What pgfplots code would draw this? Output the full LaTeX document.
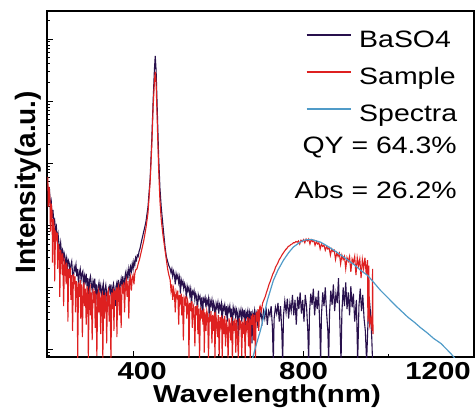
\documentclass[border=0pt]{standalone}
\usepackage{pgfplots}
\pgfplotsset{compat=1.18}
\usepackage{fontspec}
\setmainfont{Liberation Sans}[FakeStretch=1.2]
\newfontfamily\plainsans{Liberation Sans}
\newcommand\lf{\fontsize{23.7}{28}\selectfont}
\newcommand\boldlf{\fontsize{24.5}{29}\selectfont\bfseries}
\definecolor{cnavy}{RGB}{40,16,76}
\definecolor{cred}{RGB}{222,32,32}
\definecolor{cblue}{RGB}{80,155,200}
\begin{document}
\begin{tikzpicture}
\begin{axis}[
  name=ax,
  scale only axis, width=427pt, height=346pt,
  xmin=198, xmax=1200, ymin=-0.12, ymax=5.452,
  axis line style={line width=1.2pt, black},
  tick align=inside, xtick pos=bottom, ytick pos=left,
  major tick length=6pt, minor tick length=3pt,
  every tick/.style={black, line width=1pt},
  xtick={400,800,1200}, minor xtick={600,1000},
  xticklabels={\makebox[0pt]{\hspace{18pt}400},\makebox[0pt]{800},\makebox[0pt]{1200\hspace{72pt}}},
  xticklabel style={font=\boldlf, anchor=base, yshift=-22pt, inner sep=0pt},
  /pgf/number format/assume math mode=true,
  ytick={0,1,2,3,4,5}, yticklabels={},
  minor ytick={-0.097,-0.046,
    0.301,0.477,0.602,0.699,0.778,0.845,0.903,0.954,
    1.301,1.477,1.602,1.699,1.778,1.845,1.903,1.954,
    2.301,2.477,2.602,2.699,2.778,2.845,2.903,2.954,
    3.301,3.477,3.602,3.699,3.778,3.845,3.903,3.954,
    4.301,4.477,4.602,4.699,4.778,4.845,4.903,4.954,
    5.301},
  legend style={draw=none, fill=none, inner sep=0pt, outer sep=0pt,
    at={(rel axis cs:0.6066,0.945)}, anchor=north west,
    font=\lf, row sep=15pt,
    nodes={inner sep=0pt, text height=17pt, text depth=5pt},
    /tikz/every odd column/.style={column sep=8pt}},
  legend cell align=left,
  legend image code/.code={\draw[#1] (0pt,6pt) -- (44pt,6pt);},
]
\addplot[cnavy, line width=1.1pt] coordinates {
(200,2.62) (202,2.48) (204,2.55) (206,2.30) (208,2.38) (210,2.12) (212,2.25) (214,2.02) (216,2.08) (218,1.92)
(220,1.98) (222,1.78) (224,1.86) (226,1.70) (228,1.62) (230,1.72) (232,1.55) (234,1.60) (236,1.42) (238,1.56)
(240,1.50) (242,1.38) (244,1.47) (246,1.30) (248,1.44) (250,1.40) (252,1.25) (254,1.36) (256,1.42) (258,1.22)
(260,1.15) (262,1.33) (264,1.28) (266,1.37) (268,1.18) (270,1.30) (272,1.05) (274,1.24) (276,1.30) (278,1.12)
(280,1.22) (282,1.26) (284,0.98) (286,1.18) (288,1.10) (290,1.22) (292,1.02) (294,1.15) (296,0.80) (298,1.12)
(300,1.18) (302,1.05) (304,0.95) (306,1.10) (308,1.02) (310,1.14) (312,0.88) (314,1.05) (316,0.72) (318,1.00)
(320,1.08) (322,0.95) (324,1.03) (326,0.85) (328,0.98) (330,1.06) (332,0.78) (334,0.96) (336,1.04) (338,0.90)
(340,0.65) (342,0.98) (344,1.02) (346,0.92) (348,1.05) (350,0.82) (352,0.99) (354,1.06) (356,0.95) (358,0.70)
(360,1.02) (362,1.08) (364,0.96) (366,1.12) (368,0.88) (370,1.05) (372,1.14) (374,1.02) (376,1.18) (378,0.95)
(380,1.12) (382,1.22) (384,1.10) (386,1.25) (388,1.16) (390,1.30) (392,1.20) (394,1.33) (396,1.26) (398,1.38)
(400,1.30) (402,1.42) (404,1.36) (406,1.48) (408,1.44) (410,1.52) (412,1.50) (414,1.58) (416,1.62)
(420,1.75) (425,1.90) (430,2.05) (435,2.30) (440,2.75) (444,3.40) (447,4.00)
(450,4.50) (452,4.73) (454,4.50) (457,3.80) (460,3.10) (463,2.60) (466,2.30) (470,2.00) (475,1.65) (478,1.50)
(481,1.42) (484,1.35) (487,1.30) (489,1.24) (491,1.30) (493,1.18) (495,1.26) (497,1.20) (499,1.05) (501,1.22)
(503,1.15) (505,1.20) (507,1.08) (509,1.16) (511,0.90) (513,1.12) (515,1.05) (517,1.10) (519,0.98) (521,1.06)
(523,1.00) (525,0.82) (527,1.02) (529,0.95) (531,1.00) (533,0.88) (535,0.97) (537,0.70) (539,0.94) (541,0.90)
(543,0.95) (545,0.80) (547,0.90) (549,0.85) (551,0.60) (553,0.88) (555,0.82) (557,0.86) (559,0.72) (561,0.84)
(563,0.50) (565,0.82) (567,0.78) (569,0.84) (571,0.68) (573,0.80) (575,0.74) (577,0.82) (579,0.45) (581,0.78)
(583,0.72) (585,0.80) (587,0.62) (589,0.76) (591,0.70) (593,0.40) (595,0.74) (597,0.68) (599,0.76) (601,0.58)
(603,0.72) (605,0.66) (607,0.74) (609,0.35) (611,0.70) (613,0.65) (615,0.72) (617,0.55) (619,0.70) (621,0.45)
(623,0.68) (625,0.62) (627,0.70) (629,0.52) (631,0.66) (633,0.30) (635,0.68) (637,0.60) (639,0.66) (641,0.50)
(643,0.64) (645,0.58) (647,0.20) (649,0.62) (651,0.56) (653,0.64) (655,0.45) (657,0.62) (659,0.55) (661,0.64)
(663,0.25) (665,0.60) (667,0.54) (669,0.62) (671,0.40) (673,0.60) (675,0.52) (677,0.62) (679,0.10) (681,0.58)
(683,0.52) (685,0.62) (687,0.42) (689,0.60) (691,0.55) (693,0.35) (695,0.62) (697,0.50)
(700,0.60) (703,0.45) (706,0.62) (709,0.50) (712,0.68) (715,0.40) (718,0.62)
(721,0.55) (724,0.70) (727,0.35) (729,-0.20) (731,0.50) (734,0.68) (737,0.58) (740,0.75) (743,0.45) (746,0.70)
(749,0.30) (751,-0.20) (753,0.55) (756,0.78) (759,0.60) (762,0.82) (765,0.50) (768,0.75) (771,0.62) (774,0.88)
(777,0.55) (780,0.80) (783,0.40) (786,0.85) (789,0.65) (792,0.92) (795,0.58) (798,0.80) (801,0.45) (804,0.88)
(807,0.70) (810,0.30) (812,-0.20) (814,0.60) (817,0.90) (820,0.72) (823,0.98) (826,0.55) (829,0.85) (832,0.65)
(835,0.95) (838,0.40) (840,-0.20) (842,0.55) (845,0.92) (848,0.70) (851,1.00) (854,0.60) (857,0.30) (859,-0.20)
(861,0.58) (864,0.95) (867,0.72) (870,1.05) (873,0.62) (876,0.90) (879,0.75) (882,1.15) (885,0.50) (888,-0.20)
(890,0.60) (893,1.00) (896,0.70) (899,1.08) (902,0.65) (905,0.92) (908,0.55) (911,1.02) (914,0.68) (917,0.90)
(920,0.45) (924,0.80) (927,-0.20) (930,0.70) (933,0.98) (936,0.62) (939,0.88) (942,0.50) (945,0.30) (948,-0.20)
(951,0.40) (954,0.85) (957,0.60) (960,0.20) (962,-0.20)
};
\addlegendentry{BaSO4}
\addplot[cred, line width=1.1pt] coordinates {
(200,2.78) (201,2.30) (203,2.62) (205,2.40) (206,1.90) (208,2.35) (210,2.20) (211,1.40) (213,2.10) (215,1.95)
(216,1.10) (218,1.92) (220,1.80) (222,1.88) (223,1.30) (225,1.70) (227,1.55) (228,0.85) (230,1.60) (232,1.48)
(234,1.20) (235,1.55) (237,0.70) (239,1.42) (241,1.35) (243,1.05) (244,1.40) (246,1.25) (247,0.45) (249,1.30)
(251,1.15) (253,1.32) (254,0.80) (256,1.20) (258,0.30) (260,1.22) (262,1.05) (264,1.18) (265,0.60) (267,1.10)
(269,0.95) (270,-0.15) (272,1.08) (274,0.85) (276,1.12) (277,0.50) (279,1.05) (281,0.20) (283,1.00) (285,1.08)
(286,0.70) (288,0.98) (290,0.40) (292,1.02) (294,0.85) (295,-0.15) (297,0.95) (299,1.00) (300,0.55) (302,0.92)
(304,0.15) (306,0.98) (308,0.75) (310,0.95) (311,0.35) (313,0.90) (315,-0.10) (317,0.88) (319,0.95) (320,0.60)
(322,0.92) (324,0.25) (326,0.85) (328,0.90) (329,-0.15) (331,0.88) (333,0.50) (335,0.92) (337,0.70) (338,0.10)
(340,0.90) (342,0.95) (344,0.45) (346,0.88) (348,-0.15) (350,0.92) (352,0.65) (354,0.98) (355,0.30) (357,0.95)
(359,0.80) (361,1.00) (362,0.20) (364,0.96) (366,1.02) (368,0.55) (370,1.00) (372,0.35) (374,1.05) (376,0.90)
(378,1.08) (380,0.60) (382,1.05) (384,1.12) (386,0.85) (388,1.10) (390,0.50) (392,1.12) (394,1.18) (396,0.95)
(398,1.15) (400,1.20) (402,1.05) (404,1.22) (406,1.28) (409,1.30) (412,1.38) (415,1.45)
(420,1.60) (425,1.75) (430,1.95) (435,2.20)
(440,2.70) (444,3.30) (447,3.90) (450,4.30) (452,4.47) (454,4.30) (457,3.60) (460,2.90) (463,2.40) (466,2.10)
(470,1.85) (475,1.60) (478,1.45) (481,1.30) (484,1.20)
(487,1.12) (489,0.95) (491,1.05) (493,0.80) (495,0.98) (497,0.90) (499,0.60) (501,0.92) (503,0.85) (505,0.95)
(507,0.40) (509,0.88) (511,0.78) (513,0.90) (514,0.55) (516,0.85) (518,0.15) (520,0.82) (522,0.75) (524,0.86)
(526,0.50) (528,0.78) (530,0.70) (531,-0.15) (533,0.75) (535,0.62) (537,0.78) (539,0.35) (541,0.72) (543,0.68)
(545,0.05) (547,0.70) (549,0.55) (551,0.72) (552,0.25) (554,0.66) (556,-0.15) (558,0.68) (560,0.50) (562,0.64)
(564,0.40) (566,0.66) (567,-0.05) (569,0.60) (571,0.30) (573,0.62) (575,0.55) (577,-0.15) (579,0.58) (581,0.45)
(583,0.62) (585,0.10) (587,0.56) (589,0.30) (591,0.60) (592,-0.15) (594,0.55) (596,0.48) (598,0.20) (600,0.56)
(602,-0.10) (604,0.52) (606,0.40) (608,0.55) (609,-0.15) (611,0.50) (613,0.25) (615,0.54) (617,0.05) (619,0.48)
(621,0.35) (623,-0.15) (625,0.50) (627,0.42) (629,0.15) (631,0.52) (633,-0.15) (635,0.46) (637,0.30) (639,0.50)
(641,-0.05) (643,0.48) (645,0.20) (647,-0.15) (649,0.50) (651,0.38) (653,0.47) (655,-0.10) (657,0.45) (659,0.25)
(661,0.50) (663,-0.15) (665,0.46) (667,0.35) (669,0.52) (671,0.05) (673,0.50) (675,-0.15) (677,0.55) (679,0.40)
(681,0.58) (683,0.15) (685,0.56) (687,-0.15) (689,0.60) (691,0.45) (693,0.65) (695,0.30) (697,0.68)
(698,0.70) (701,0.62) (704,0.75) (707,0.80) (710,0.85) (713,0.92) (716,0.98) (719,1.05) (722,1.10) (725,1.16)
(728,1.22) (731,1.26) (734,1.32) (737,1.36) (740,1.40) (743,1.45) (746,1.48) (749,1.52) (752,1.55) (755,1.58)
(758,1.61) (761,1.63) (764,1.66) (767,1.67) (770,1.69) (773,1.70) (776,1.72) (779,1.72) (782,1.74) (785,1.73)
(788,1.75) (791,1.70) (794,1.76) (797,1.74) (800,1.77) (803,1.72) (806,1.78) (809,1.75) (812,1.78) (815,1.70)
(818,1.77) (821,1.74) (824,1.76) (827,1.68) (830,1.74) (833,1.70) (836,1.72) (839,1.62) (842,1.70) (845,1.66)
(848,1.68) (851,1.60) (854,1.66) (857,1.62) (860,1.64) (863,1.52) (866,1.62) (869,1.58) (872,1.60) (875,1.45)
(878,1.56) (881,1.50) (884,1.55) (887,1.38) (890,1.52) (893,1.45) (896,1.50) (899,1.30) (902,1.48) (905,1.42)
(908,1.50) (911,1.25) (914,1.46) (917,1.40) (920,1.50) (923,1.20) (926,1.48) (929,1.35) (932,1.46) (935,1.15)
(938,1.45) (941,1.30) (944,1.48) (947,1.22) (950,1.44) (951,0.45) (953,1.35) (955,0.40) (958,0.50) (961,0.30)
(962,1.30) (963,0.25)
};
\addlegendentry{Sample}
\addplot[cblue, line width=1.2pt] coordinates {
(680,-0.15) (690,0.10) (699,0.31) (707,0.55) (715,0.79) (722,0.95) (729,1.11) (740,1.28) (753,1.44) (765,1.56)
(776,1.65) (790,1.72) (800,1.76) (809,1.77) (820,1.77) (830,1.75) (840,1.73) (855,1.67) (871,1.60) (888,1.52)
(904,1.44) (920,1.36) (935,1.27) (951,1.19) (966,1.07) (981,0.95) (1000,0.82) (1014,0.72) (1028,0.63) (1045,0.52)
(1060,0.44) (1075,0.35) (1090,0.27) (1105,0.18) (1122,0.10) (1135,0.01) (1145,-0.06) (1155,-0.14)
};
\addlegendentry{Spectra}
\node[anchor=base east, font=\lf, inner sep=0pt] at (rel axis cs:0.960,0.5896) {QY = 64.3\%};
\node[anchor=base east, font=\lf, inner sep=0pt] at (rel axis cs:0.960,0.4595) {Abs = 26.2\%};
\end{axis}
\node[rotate=90, anchor=base, inner sep=0pt, font=\plainsans\bfseries\fontsize{28}{32}\selectfont] at ([xshift=-12pt,yshift=2pt]ax.west) {Intensity(a.u.)};
\node[anchor=base, inner sep=0pt, font=\boldlf] at ([xshift=6.5pt,yshift=-45pt]ax.south) {Wavelength(nm)};
\path (ax.south west) ++(-47pt,-53pt) coordinate (bbA);
\path (ax.north east) ++(1pt,11pt) coordinate (bbB);
\pgfresetboundingbox
\path[use as bounding box] (bbA) rectangle (bbB);
\end{tikzpicture}
\end{document}
